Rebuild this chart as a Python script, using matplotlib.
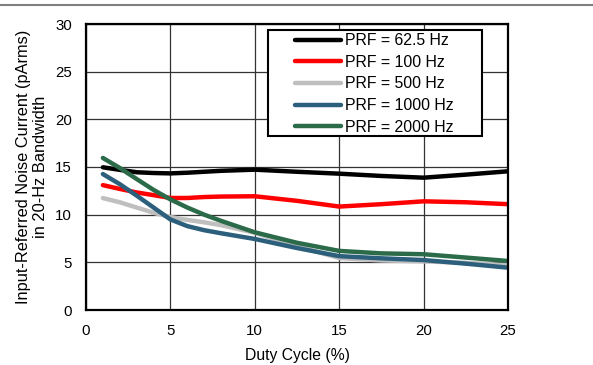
import matplotlib
matplotlib.use("Agg")
import matplotlib.pyplot as plt
from matplotlib.lines import Line2D
from matplotlib.patches import Rectangle

plt.rcParams["font.family"] = ["Liberation Sans", "DejaVu Sans"]

# duty cycle (%) sample points
duty = [1, 2, 3, 4, 5, 6, 7, 8, 10, 12.5, 15, 17.5, 20, 22.5, 25]

prf_62_5 = [14.97, 14.7, 14.45, 14.37, 14.33, 14.4, 14.5, 14.6, 14.72, 14.5, 14.3, 14.06, 13.88, 14.2, 14.55]
prf_100 = [13.1, 12.7, 12.33, 12.05, 11.75, 11.75, 11.85, 11.9, 11.93, 11.45, 10.85, 11.1, 11.4, 11.3, 11.1]
prf_500 = [11.74, 11.3, 10.75, 10.2, 9.75, 9.45, 9.2, 8.9, 8.1, 6.7, 5.45, 5.2, 5.1, 4.95, 4.7]
prf_1000 = [14.26, 13.2, 12.0, 10.75, 9.5, 8.8, 8.37, 8.05, 7.45, 6.5, 5.65, 5.42, 5.24, 4.86, 4.44]
prf_2000 = [15.95, 14.9, 13.74, 12.6, 11.6, 10.75, 10.0, 9.35, 8.15, 7.05, 6.2, 5.94, 5.85, 5.5, 5.14]

series = [
    ("PRF = 62.5 Hz", prf_62_5, "#000000"),
    ("PRF = 100 Hz", prf_100, "#ff0000"),
    ("PRF = 500 Hz", prf_500, "#bfbfbf"),
    ("PRF = 1000 Hz", prf_1000, "#2c5f7c"),
    ("PRF = 2000 Hz", prf_2000, "#2b6b49"),
]

x_ticks = [0, 5, 10, 15, 20, 25]
y_ticks = [0, 5, 10, 15, 20, 25, 30]

fig = plt.figure(figsize=(5.93, 3.65), dpi=100)
ax = fig.add_axes([86 / 593, 1 - 310 / 365, 422 / 593, 286 / 365])

for label, vals, color in series:
    ax.plot(duty, vals, color=color, lw=3.2, label=label, solid_capstyle="round",
            solid_joinstyle="round")

ax.set_xlim(0, 25)
ax.set_ylim(0, 30)
ax.set_xticks(x_ticks)
ax.set_yticks(y_ticks)
ax.tick_params(length=0, labelsize=10.8, pad=10)
ax.grid(True, color="#333333", lw=0.9)
ax.set_axisbelow(True)
for sp in ax.spines.values():
    sp.set_linewidth(1.6)

ax.set_xlabel("Duty Cycle (%)", fontsize=11.3, labelpad=7)
ax.set_ylabel("Input-Referred Noise Current (pArms)\nin 20-Hz Bandwidth", fontsize=11.8, labelpad=5)

# legend box is wider than its contents, so the frame is drawn separately
ax.add_patch(Rectangle((0.431, 0.608), 0.507, 0.372, transform=ax.transAxes,
                       facecolor="white", edgecolor="black", lw=1.5, zorder=4))
leg = ax.legend(loc="upper left", bbox_to_anchor=(0.495, 0.968), borderaxespad=0,
                fontsize=11.4, frameon=False, borderpad=0,
                handlelength=2.9, handletextpad=0.25, labelspacing=0.42)
leg.set_zorder(5)

# grey rule across the top of the page
fig.add_artist(Line2D([0, 1], [1 - 5 / 365, 1 - 5 / 365], color="#808080", lw=1.5,
                      transform=fig.transFigure))

fig.savefig("out.png", dpi=100)
